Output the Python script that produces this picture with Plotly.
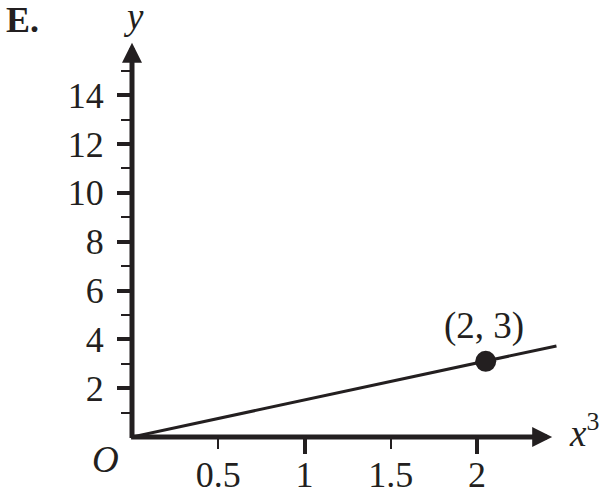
import plotly.graph_objects as go

# ---- data ----
line_x = [0, 2.46]
line_y = [0, 3.73]
point_x = [2.05]
point_y = [3.1]
point_label = "(2, 3)"
x_tick_vals = [0.5, 1, 1.5, 2]
x_tick_text = ["0.5", "1", "1.5", "2"]
x_major_vals = [1, 2]
y_major_vals = [2, 4, 6, 8, 10, 12, 14]
y_minor_vals = [1, 3, 5, 7, 9, 11, 13, 15]
x_arrow_tip = 2.435
y_arrow_tip = 16.15

# ---- layout geometry ----
W, H = 607, 497
L, B, T, R = 132, 60, 22, 35
X_RANGE = [0, 2.55]
Y_RANGE = [0, 17]
INK = "#231f20"
FONT = "Liberation Serif"


def paper_x(px):
    return (px - L) / (W - L - R)


def paper_y(py):
    return (H - B - py) / (H - T - B)


fig = go.Figure()
fig.add_trace(go.Scatter(x=line_x, y=line_y, mode="lines",
                         line=dict(color=INK, width=3), hoverinfo="skip"))
fig.add_trace(go.Scatter(x=point_x, y=point_y, mode="markers",
                         marker=dict(color=INK, size=21), hoverinfo="skip",
                         cliponaxis=False))
fig.add_trace(go.Scatter(x=[], y=[], xaxis="x2", showlegend=False))

tick_font = dict(family=FONT, size=36, color=INK)
label_font = dict(family=FONT, size=37, color=INK)


def label(px, py, text, **kw):
    return dict(x=paper_x(px), y=paper_y(py), xref="paper", yref="paper", text=text,
                showarrow=False, xanchor=kw.pop("xanchor", "center"),
                yanchor=kw.pop("yanchor", "middle"), font=kw.pop("font", label_font), **kw)


annotations = [
    # axes with arrow heads
    dict(x=0, y=y_arrow_tip, ax=0, ay=-0.1, xref="x", yref="y", axref="x", ayref="y",
         text="", showarrow=True, arrowhead=2, arrowsize=0.8, arrowwidth=5,
         arrowcolor=INK, standoff=0),
    dict(x=x_arrow_tip, y=0, ax=-0.014, ay=0, xref="x", yref="y", axref="x", ayref="y",
         text="", showarrow=True, arrowhead=2, arrowsize=0.8, arrowwidth=5,
         arrowcolor=INK, standoff=0),
    # labels
    label(22, 20, "<b>E.</b>", font=dict(family=FONT, size=36, color=INK)),
    label(133, 16, "<i>y</i>"),
    label(105, 459, "<i>O</i>"),
    label(567, 430, "<i>x</i><sup>3</sup>", xanchor="left"),
    dict(x=point_x[0], y=point_y[0], xref="x", yref="y", text=point_label,
         showarrow=False, yshift=35, xshift=-2, xanchor="center", yanchor="middle",
         font=label_font),
]

fig.update_layout(
    width=W, height=H,
    margin=dict(l=L, r=R, t=T, b=B, pad=0, autoexpand=False),
    paper_bgcolor="white", plot_bgcolor="white",
    showlegend=False,
    annotations=annotations,
    xaxis=dict(range=X_RANGE, tickvals=x_tick_vals, ticktext=x_tick_text,
               ticks="outside", ticklen=11, tickwidth=2, tickcolor=INK,
               tickfont=tick_font, ticklabelstandoff=-5,
               showgrid=False, zeroline=False, showline=False,
               fixedrange=True, automargin=False),
    xaxis2=dict(range=X_RANGE, overlaying="x", anchor="y", side="bottom",
                tickvals=x_major_vals, ticks="outside", ticklen=16, tickwidth=4,
                tickcolor=INK, showticklabels=False, showgrid=False,
                zeroline=False, showline=False, automargin=False),
    yaxis=dict(range=Y_RANGE, tickvals=y_major_vals,
               ticks="outside", ticklen=14, tickwidth=4, tickcolor=INK,
               minor=dict(tickvals=y_minor_vals, ticks="outside", ticklen=10,
                          tickwidth=2, tickcolor=INK),
               tickfont=tick_font, ticklabelstandoff=6,
               showgrid=False, zeroline=False, showline=False, fixedrange=True,
               automargin=False),
)

fig.write_html("out.html", config={"displayModeBar": False},
               post_script="document.body.style.margin='0';"
                           "document.body.style.overflow='hidden';")
